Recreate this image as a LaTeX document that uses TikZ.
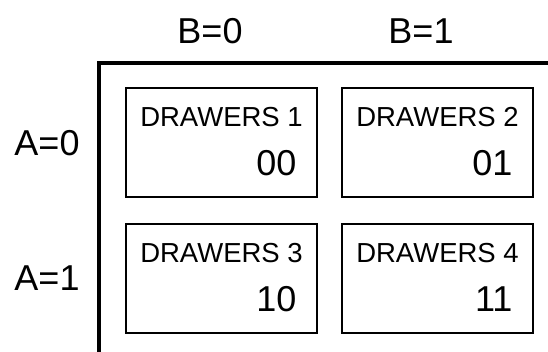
\documentclass[tikz,border=0pt]{standalone}
\usepackage{fontspec}
\setmainfont{Liberation Sans}
\usetikzlibrary{positioning}

\begin{document}
\begin{tikzpicture}[
  x=1pt, y=-1pt,
  frame/.style={line width=3.5pt},
  drawer/.style={draw, line width=1.3pt, minimum width=191pt, minimum height=109pt, inner sep=0pt},
  title/.style={font=\fontsize{27.5}{30}\selectfont, inner sep=0pt},
  code/.style={font=\fontsize{36}{40}\selectfont, inner sep=0pt, anchor=east},
  axislabel/.style={font=\fontsize{36}{40}\selectfont, inner sep=0pt}
]
\useasboundingbox (0,0) rectangle (548,352);

% outer frame
\draw[frame] (99,352) -- (99,63) -- (548,63);

% column and row labels
\node[axislabel] (b0) at (210,31) {B=0};
\node[axislabel] (b1) at (421,31) {B=1};
\node[axislabel] (a0) at (47,143) {A=0};
\node[axislabel] (a1) at (47,278) {A=1};

% drawers
\node[drawer] (d1) at (221.5,142.5) {};
\node[drawer] (d2) at (437.5,142.5) {};
\node[drawer] (d3) at (221.5,278.5) {};
\node[drawer] (d4) at (437.5,278.5) {};

\node[title] (t1) at ([yshift=-30pt]d1.north) {DRAWERS 1};
\node[title] (t2) at ([yshift=-30pt]d2.north) {DRAWERS 2};
\node[title] (t3) at ([yshift=-30pt]d3.north) {DRAWERS 3};
\node[title] (t4) at ([yshift=-30pt]d4.north) {DRAWERS 4};

\node[code] (c1) at ([xshift=-21pt,yshift=35pt]d1.south east) {00};
\node[code] (c2) at ([xshift=-21pt,yshift=35pt]d2.south east) {01};
\node[code] (c3) at ([xshift=-21pt,yshift=35pt]d3.south east) {10};
\node[code] (c4) at ([xshift=-21pt,yshift=35pt]d4.south east) {11};

\end{tikzpicture}
\end{document}
